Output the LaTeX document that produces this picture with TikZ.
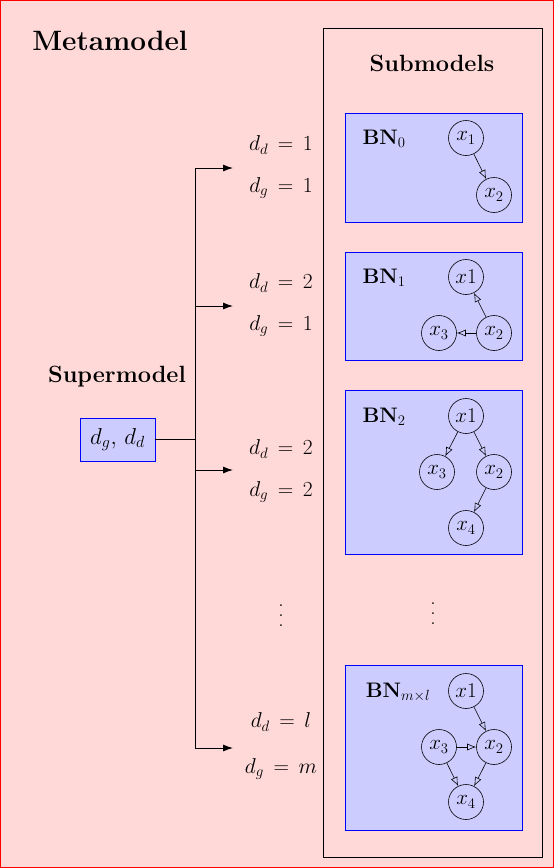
\RequirePackage{fix-cm}
\documentclass[tikz,border=0pt]{standalone}
\usetikzlibrary{arrows.meta}
\definecolor{bgpink}{HTML}{FFD8D8}
\definecolor{bnfill}{HTML}{CCCCFF}
\newcommand{\bigvdots}{\vbox{\baselineskip=10pt\lineskiplimit=0pt\hbox{.}\hbox{.}\hbox{.}}}
\begin{document}
\begin{tikzpicture}[x=1pt,y=-1pt,
  bnbox/.style={draw=blue, fill=bnfill, line width=0.8pt},
  var/.style={draw, circle, minimum size=35pt, inner sep=0pt, font=\fontsize{21}{24}\selectfont, line width=0.6pt},
  bnlabel/.style={font=\fontsize{21}{24}\selectfont\bfseries},
  vlabel/.style={font=\fontsize{21.5}{24}\selectfont},
  conn/.style={line width=0.9pt, -{Latex[length=10pt,width=7pt]}},
  bnarrow/.style={line width=0.6pt, -{Latex[open,length=9pt,width=7pt]}},
  title/.style={font=\fontsize{23.5}{27}\selectfont\bfseries}
]
\useasboundingbox (0,0) rectangle (554,868);
\draw[red, fill=bgpink, line width=1pt] (0.5,0.5) rectangle (553.5,867.5);
\node[font=\fontsize{28}{32}\selectfont\bfseries] (meta) at (110,41) {Metamodel};
% submodels container
\draw[black, line width=0.8pt] (323,28) rectangle (542,857);
\node[title] (sub) at (432,63) {Submodels};
% BN boxes
\draw[bnbox] (345,113) rectangle (522,222);
\draw[bnbox] (345,252) rectangle (522,360);
\draw[bnbox] (345,390) rectangle (522,554);
\draw[bnbox] (345,665) rectangle (522,830);
% BN0
\node[bnlabel] (bn0) at (384,139) {BN$_0$};
\node[var] (a1) at (466,138) {$x_1$};
\node[var] (a2) at (494,195) {$x_2$};
\draw[bnarrow] (a1) -- (a2);
% BN1
\node[bnlabel] (bn1) at (384,278) {BN$_1$};
\node[var] (b1) at (466,277) {$x1$};
\node[var] (b3) at (439,333) {$x_3$};
\node[var] (b2) at (494,333) {$x_2$};
\draw[bnarrow] (b2) -- (b1);
\draw[bnarrow] (b2) -- (b3);
% BN2
\node[bnlabel] (bn2) at (384,417) {BN$_2$};
\node[var] (c1) at (466,416) {$x1$};
\node[var] (c3) at (437,472) {$x_3$};
\node[var] (c2) at (494,472) {$x_2$};
\node[var] (c4) at (466,528) {$x_4$};
\draw[bnarrow] (c1) -- (c3);
\draw[bnarrow] (c1) -- (c2);
\draw[bnarrow] (c2) -- (c4);
% BN m x l
\node[bnlabel] (bnm) at (398,692) {BN$_{m\times l}$};
\node[var] (d1) at (466,691) {$x1$};
\node[var] (d3) at (439,747) {$x_3$};
\node[var] (d2) at (494,747) {$x_2$};
\node[var] (d4) at (466,802) {$x_4$};
\draw[bnarrow] (d1) -- (d2);
\draw[bnarrow] (d3) -- (d2);
\draw[bnarrow] (d3) -- (d4);
\draw[bnarrow] (d2) -- (d4);
\node[vlabel, inner sep=0pt] (vd2) at (433,614) {\bigvdots};
% supermodel
\node[title] (sup) at (117,377) {Supermodel};
\node[draw=blue, fill=bnfill, line width=0.8pt, minimum width=75pt, minimum height=43pt, inner sep=0pt, font=\fontsize{23}{26}\selectfont] (box) at (117.5,439.5) {$d_g,\, d_d$};
\coordinate (j) at (195,439.5);
\coordinate (t1) at (195,168);
\coordinate (t2) at (195,306);
\coordinate (t3) at (195,470);
\coordinate (t4) at (195,748);
\coordinate (e1) at (233,168);
\coordinate (e2) at (233,306);
\coordinate (e3) at (233,470);
\coordinate (e4) at (233,748);
\draw[line width=0.9pt] (box.east) -- (j);
\draw[line width=0.9pt] (t1) -- (t4);
\draw[conn] (t1) -- (e1);
\draw[conn] (t2) -- (e2);
\draw[conn] (t3) -- (e3);
\draw[conn] (t4) -- (e4);
% labels
\node[vlabel] (l1a) at (281,145) {$d_d \,=\, 1$};
\node[vlabel] (l1b) at (281,188) {$d_g \,=\, 1$};
\node[vlabel] (l2a) at (281,283) {$d_d \,=\, 2$};
\node[vlabel] (l2b) at (281,326) {$d_g \,=\, 1$};
\node[vlabel] (l3a) at (281,449) {$d_d \,=\, 2$};
\node[vlabel] (l3b) at (281,492) {$d_g \,=\, 2$};
\node[vlabel, inner sep=0pt] (vd1) at (281,616) {\bigvdots};
\node[vlabel] (l4a) at (281,722) {$d_d \,=\, l$};
\node[vlabel] (l4b) at (281,769) {$d_g \,=\, m$};
\end{tikzpicture}
\end{document}
